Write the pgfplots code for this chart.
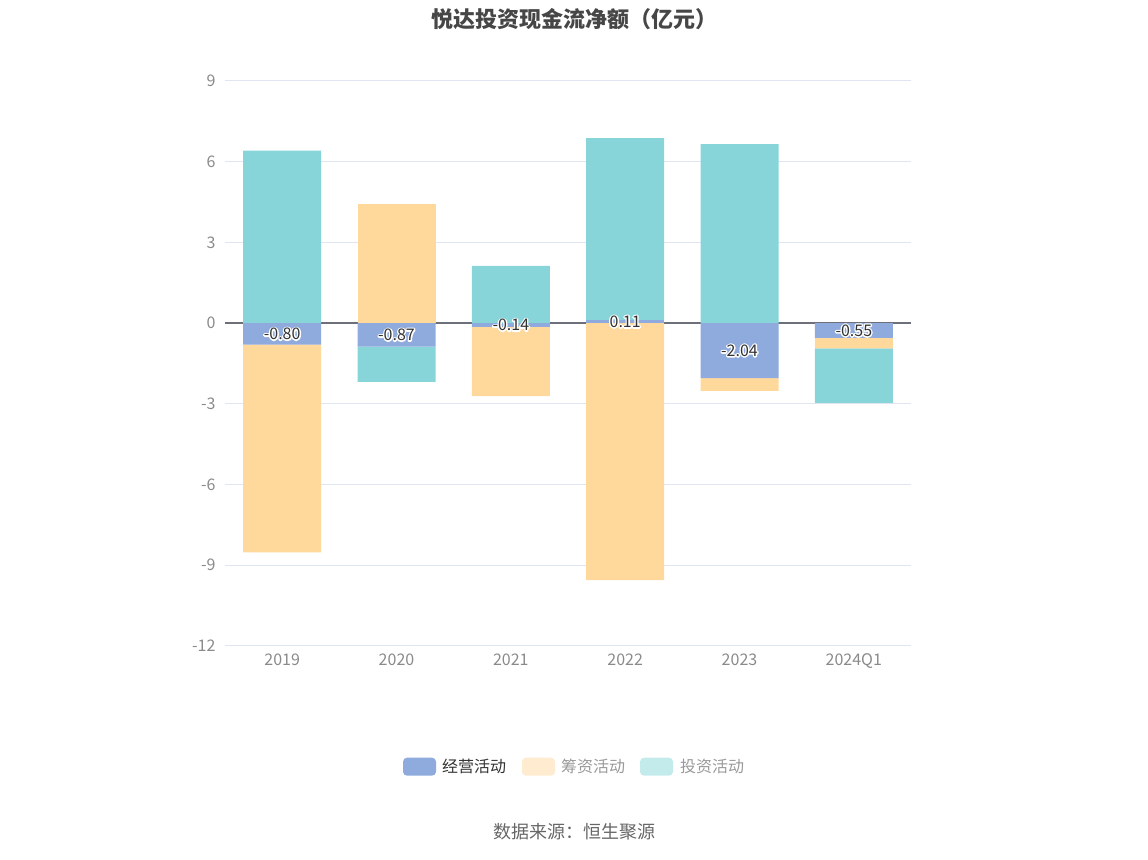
\documentclass[border=0pt]{standalone}
\usepackage{pgfplots}
\pgfplotsset{compat=1.18}
\usepackage{pgfplotstable}
\usepackage{fontspec}
\setmainfont{Noto Sans CJK SC}
\definecolor{opc}{HTML}{8FAADC}
\definecolor{finc}{HTML}{FFD89C}
\definecolor{invc}{HTML}{87D5D9}
\definecolor{finl}{HTML}{FFEBCF}
\definecolor{invl}{HTML}{C4EBEC}
\definecolor{gridc}{HTML}{E0E6F1}
\definecolor{zeroc}{HTML}{6E7079}
\definecolor{tickc}{HTML}{8A8A8A}
\definecolor{titlec}{HTML}{464646}
% text with a white halo: a stroked white copy behind the filled one
\newcommand\halo[1]{\leavevmode\rlap{\special{pdf:literal direct q 1 Tr 2.8 w 1 J 1 j 1 1 1 RG 1 1 1 rg}#1\special{pdf:literal direct Q}}#1}

\pgfplotstableread{
x op fin inv lab
0 -0.80 -7.72 6.41 -0.80
1 -0.87 4.42 -1.31 -0.87
2 -0.14 -2.57 2.13 -0.14
3 0.11 -9.55 6.77 0.11
4 -2.04 -0.48 6.65 -2.04
5 -0.55 -0.39 -2.02 -0.55
}\data

\pgfplotsset{
  base/.style={
    at={(225pt,213pt)}, anchor=south west, scale only axis,
    width=686pt, height=565pt,
    xmin=-0.5, xmax=5.5, ymin=-12, ymax=9,
  },
}

\begin{document}
\begin{tikzpicture}
\path[use as bounding box] (0,0) rectangle (1148pt,859pt);

% main axis: grid, labels, positive stack
\begin{axis}[base,
  ybar stacked, bar width=78pt,
  axis line style={draw=none},
  major tick length=0pt,
  ytick={-12,-9,-6,-3,0,3,6,9},
  yticklabels={-12,-9,-6,-3,0,3,6,9},
  xtick={0,1,2,3,4,5},
  xticklabels={2019,2020,2021,2022,2023,2024Q1},
  ymajorgrids,
  grid style={color=gridc, line width=1pt},
  extra y ticks={0}, extra y tick labels={},
  extra y tick style={grid style={color=zeroc, line width=1.3pt}},
  tick label style={font=\fontsize{16}{18}\selectfont, text=tickc},
  yticklabel style={xshift=-6pt},
  xticklabel style={yshift=-4pt},
]
\addplot[fill=opc, draw=none] table[x=x, y expr={max(\thisrow{op},0)}] {\data};
\addplot[fill=finc, draw=none] table[x=x, y expr={max(\thisrow{fin},0)}] {\data};
\addplot[fill=invc, draw=none] table[x=x, y expr={max(\thisrow{inv},0)}] {\data};
\end{axis}

% negative stack
\begin{axis}[base, hide axis, ybar stacked, bar width=78pt]
\addplot[fill=opc, draw=none] table[x=x, y expr={min(\thisrow{op},0)}] {\data};
\addplot[fill=finc, draw=none] table[x=x, y expr={min(\thisrow{fin},0)}] {\data};
\addplot[fill=invc, draw=none] table[x=x, y expr={min(\thisrow{inv},0)}] {\data};
\end{axis}

% value labels of operating cash flow
\begin{axis}[base, hide axis, clip=false]
\addplot[draw=none, mark=none,
  nodes near coords={\halo{\pgfplotspointmeta}},
  nodes near coords align=center,
  point meta=explicit symbolic,
  every node near coord/.style={font=\fontsize{16}{18}\selectfont, text=black!80, anchor=center},
] table[x=x, y expr={\thisrow{op}/2}, meta=lab] {\data};
\end{axis}

% title
\node[font=\fontsize{22}{24}\selectfont\bfseries, text=titlec] at (574pt,840pt) {悦达投资现金流净额（亿元）};

% legend
\fill[opc, rounded corners=4pt] (403pt,83.3pt) rectangle (436pt,101.3pt);
\node[anchor=west, inner sep=0pt, font=\fontsize{16}{18}\selectfont, text=black!80] at (442pt,92.3pt) {经营活动};
\fill[finl, rounded corners=4pt] (522pt,83.3pt) rectangle (555pt,101.3pt);
\node[anchor=west, inner sep=0pt, font=\fontsize{16}{18}\selectfont, text=black!40] at (561pt,92.3pt) {筹资活动};
\fill[invl, rounded corners=4pt] (640pt,83.3pt) rectangle (673pt,101.3pt);
\node[anchor=west, inner sep=0pt, font=\fontsize{16}{18}\selectfont, text=black!40] at (680pt,92.3pt) {投资活动};

% source
\node[font=\fontsize{18}{20}\selectfont, text=black!60] at (574pt,27pt) {数据来源：恒生聚源};
\end{tikzpicture}
\end{document}
